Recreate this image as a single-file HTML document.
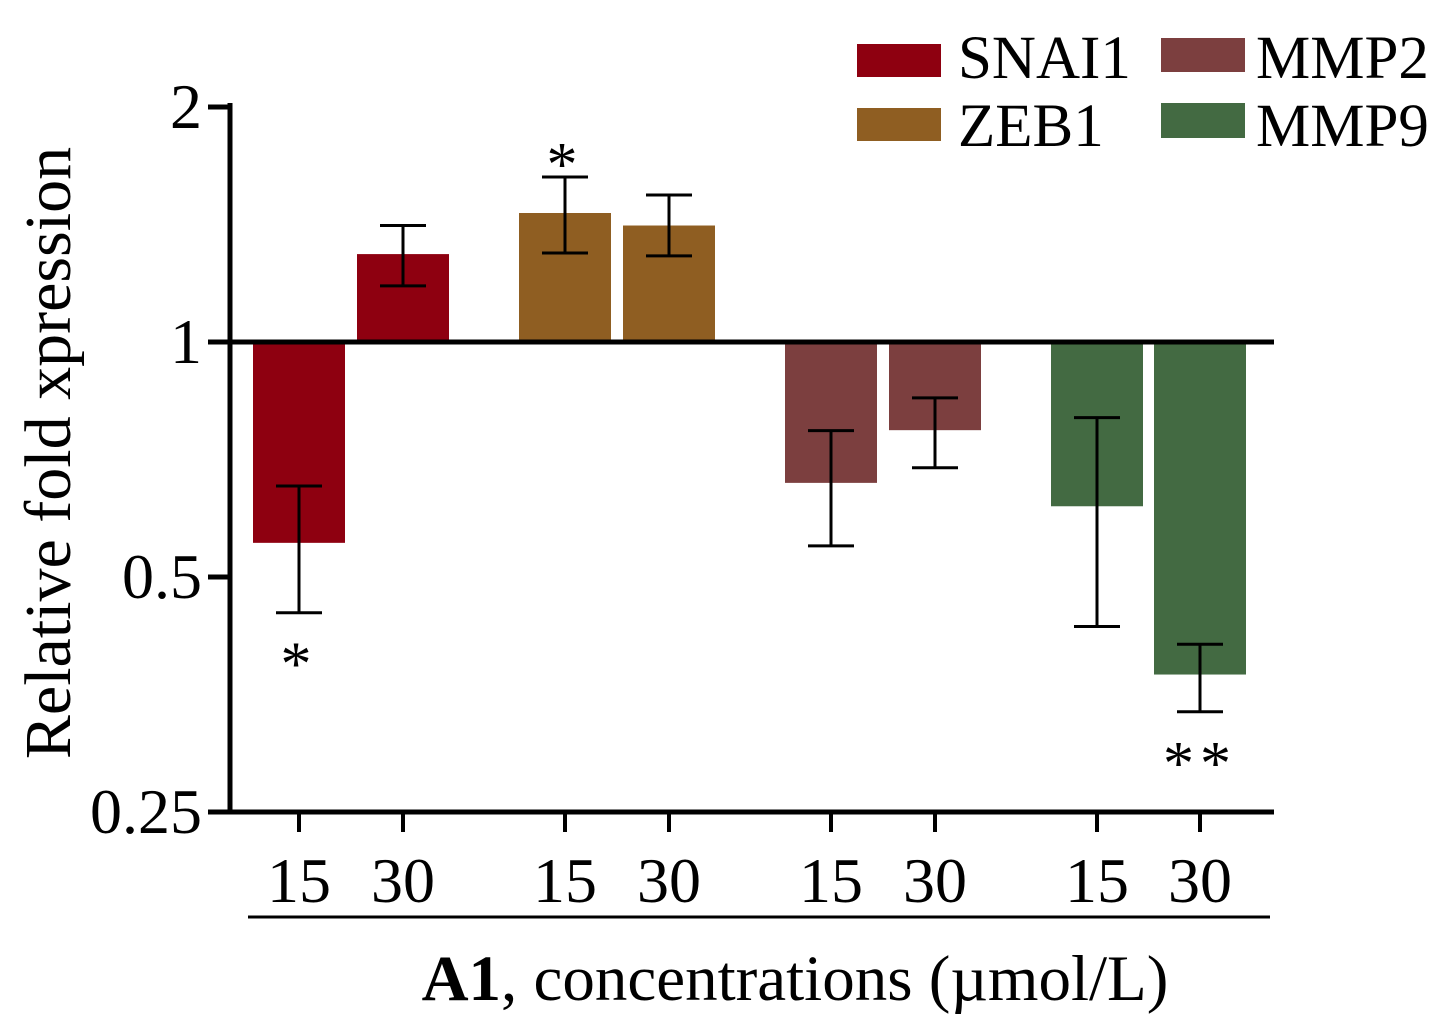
<!DOCTYPE html>
<html><head><meta charset="utf-8"><style>
html,body{margin:0;padding:0;background:#fff;}
svg{display:block;font-family:"Liberation Serif",serif;}
</style></head><body>
<svg id="chart" width="1445" height="1021" viewBox="0 0 1445 1021">
<g id="bars"></g>
<g id="axes"></g>
<g id="legend">
 <rect x="857" y="44" width="84" height="33" fill="#8e0010"/>
 <text x="958" y="78" font-size="61">SNAI1</text>
 <rect x="857" y="108" width="84" height="33" fill="#8f5e22"/>
 <text x="958" y="146" font-size="61">ZEB1</text>
 <rect x="1161" y="38" width="84" height="34" fill="#7c3f3f"/>
 <text x="1256" y="78" font-size="61">MMP2</text>
 <rect x="1161" y="103" width="84" height="35" fill="#436a42"/>
 <text x="1256" y="146" font-size="61">MMP9</text>
</g>
<text transform="translate(70,453) rotate(-90)" text-anchor="middle" font-size="66">Relative fold xpression</text>
<line x1="248" y1="917" x2="1270" y2="917" stroke="#000" stroke-width="3"/>
<text x="795" y="1000" text-anchor="middle" font-size="65"><tspan font-weight="bold">A1</tspan>, concentrations (µmol/L)</text>
</svg>
<script>
const categories = ["15","30","15","30","15","30","15","30"];
const genes = ["SNAI1","SNAI1","ZEB1","ZEB1","MMP2","MMP2","MMP9","MMP9"];
const values = [0.553,1.296,1.463,1.41,0.66,0.771,0.616,0.375];
const errHigh = [0.654,1.41,1.627,1.543,0.77,0.848,0.80,0.41];
const errLow = [0.45,1.18,1.30,1.289,0.548,0.69,0.432,0.336];
const signif = ["*","","*","","","","","**"];
const yTicks = [0.25,0.5,1,2];
const yTickLabels = ["0.25","0.5","1","2"];
const colors = {SNAI1:"#8e0010",ZEB1:"#8f5e22",MMP2:"#7c3f3f",MMP9:"#436a42"};

const NS="http://www.w3.org/2000/svg";
const y0=342, perOct=235;
function yScale(v){return y0-Math.log2(v)*perOct;}
const centers=[299,403,565,669,831,935,1097,1200];
function xScale(i){return centers[i];}
const bw=92;
function mk(tag,attrs,parent){const e=document.createElementNS(NS,tag);for(const k in attrs)e.setAttribute(k,attrs[k]);parent.appendChild(e);return e;}
const bars=document.getElementById('bars'), axes=document.getElementById('axes');
values.forEach((v,i)=>{
  const x=xScale(i), yv=yScale(v);
  const r=mk('rect',{x:x-bw/2,y:Math.min(yv,y0),width:bw,height:Math.abs(yv-y0),fill:colors[genes[i]]},bars);
  
  
  const yh=yScale(errHigh[i]), yl=yScale(errLow[i]);
  const g=mk('g',{stroke:'#000','stroke-width':3},bars);
  
  
  mk('line',{x1:x,y1:yh,x2:x,y2:yl},g);
  mk('line',{x1:x-23,y1:yh,x2:x+23,y2:yh},g);
  mk('line',{x1:x-23,y1:yl,x2:x+23,y2:yl},g);
  if(signif[i]){
    const up=v>1;
    const t=mk('text',{x:x,y:up?yh+8:yl+72,'text-anchor':'middle','font-size':62,'letter-spacing':6},bars);
    t.textContent=signif[i];
    
    
  }
  const tk=mk('line',{x1:x,y1:812,x2:x,y2:832,stroke:'#000','stroke-width':4},axes);
  
  
  const tl=mk('text',{x:x,y:902,'text-anchor':'middle','font-size':64},axes);
  tl.textContent=categories[i];
  
  
});
const ya=mk('line',{x1:230,y1:103,x2:230,y2:814,stroke:'#000','stroke-width':5},axes);


const xa=mk('line',{x1:228,y1:812,x2:1274,y2:812,stroke:'#000','stroke-width':5},axes);


const bl=mk('line',{x1:228,y1:y0,x2:1274,y2:y0,stroke:'#000','stroke-width':5},axes);


yTicks.forEach((t,i)=>{
  const y=yScale(t);
  const l=mk('line',{x1:208,y1:y,x2:230,y2:y,stroke:'#000','stroke-width':5},axes);
  
  
  const tx=mk('text',{x:202,y:y+21,'text-anchor':'end','font-size':64},axes);
  tx.textContent=yTickLabels[i];
  
  
});
</script>
</body></html>
